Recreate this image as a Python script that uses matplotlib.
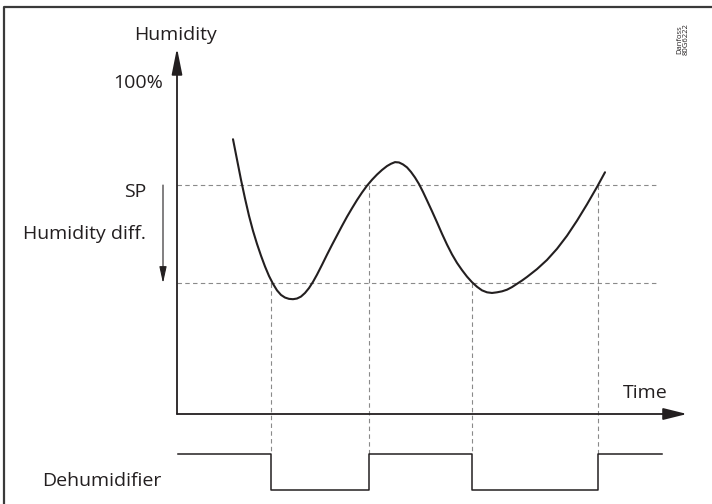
import matplotlib
matplotlib.use("Agg")
import matplotlib.pyplot as plt

# ---- data (time in arbitrary units, humidity in %) ----
curve_time = [5.6, 6.0, 6.4, 6.8, 7.2, 7.6, 8.0, 8.4, 8.8, 9.2, 9.6, 10.0, 10.4,
              10.8, 11.2, 11.6, 12.0, 12.4, 12.8, 13.2, 13.6, 14.0, 14.5, 15.0,
              15.5, 16.0, 16.5, 17.0, 17.5, 18.0, 18.5, 19.0, 19.5, 20.0, 20.5,
              21.0, 21.4, 21.8, 22.2, 22.6, 23.0, 23.4, 23.8, 24.2, 24.6, 25.0,
              25.5, 26.0, 26.5, 27.0, 27.5, 28.0, 28.5, 29.0, 29.5, 30.0, 30.5,
              31.0, 31.5, 32.0, 32.5, 33.0, 33.5, 34.0, 34.5, 35.0, 36.0, 37.0,
              38.0, 39.0, 40.0, 41.0, 42.0, 42.8]
curve_humidity = [84.0, 77.8, 71.6, 65.9, 60.6, 56.0, 52.0, 48.4, 45.1, 42.2, 39.8,
                  37.8, 36.4, 35.6, 35.2, 35.1, 35.3, 35.9, 37.0, 38.5, 40.4, 42.6,
                  45.6, 48.7, 51.7, 54.6, 57.5, 60.3, 62.9, 65.4, 67.7, 69.8, 71.6,
                  73.2, 74.6, 75.8, 76.5, 77.0, 76.9, 76.3, 75.4, 74.0, 72.3, 70.3,
                  67.9, 65.3, 62.0, 58.6, 55.1, 51.8, 48.8, 46.2, 44.0, 42.0, 40.3,
                  38.9, 37.8, 37.2, 37.0, 37.2, 37.5, 38.0, 38.8, 39.8, 40.8, 41.9,
                  44.3, 47.1, 50.5, 54.5, 59.1, 64.1, 69.4, 73.9]
setpoint = 70
humidity_diff = 30
switch_times = [9.4, 19.2, 29.5, 42.1]
switch_levels = [setpoint - humidity_diff, setpoint, setpoint - humidity_diff, setpoint]
dehum_times = [0.1, 9.4, 19.2, 29.5, 42.1, 48.5]
dehum_state = [1, 0, 1, 0, 1, 1]

label_y = "Humidity"
label_x = "Time"
label_100 = "100%"
label_sp = "SP"
label_diff = "Humidity diff."
label_dehum = "Dehumidifier"
code_text = "Danfoss\n80G6222"

# ---- layout ----
W, H, DPI = 712, 504, 100
PX_T = 10.0       # px per time unit
PX_H = 3.271      # px per % humidity
X0, Y0 = 177, 414 # origin in pixels

ink = "#231f20"
grey = "#8a8a8a"
fam = ["Open Sans", "DejaVu Sans"]
fs = 14

fig = plt.figure(figsize=(W / DPI, H / DPI), dpi=DPI)
ax = fig.add_axes([0, 0, 1, 1])
ax.set_xlim(-X0 / PX_T, (W - X0) / PX_T)
ax.set_ylim((Y0 - H) / PX_H, Y0 / PX_H)
ax.axis("off")

# frame
ax.plot([0.006, 0.006, 1.0], [0.0, 0.986, 0.986], transform=ax.transAxes,
        color="#3a3a3a", lw=1.6, clip_on=False, solid_capstyle="butt")

# dashed reference lines
x_end = 47.9
for lvl in (setpoint, setpoint - humidity_diff):
    ax.plot([0, x_end], [lvl, lvl], color=grey, lw=0.8, ls=(0, (4, 3)))
hi_level, lo_level = -12.2, -23.2
for t, lv in zip(switch_times, switch_levels):
    ax.plot([t, t], [lv, hi_level], color=grey, lw=0.8, ls=(0, (4, 3)))

# axes arrows
y_tip = (Y0 - 48) / PX_H
x_tip = (687 - X0) / PX_T
ax.annotate("", xy=(0, y_tip), xytext=(0, 0),
            arrowprops=dict(arrowstyle="-|>,head_length=1.6,head_width=0.32",
                            color=ink, lw=1.3, shrinkA=0, shrinkB=0,
                            mutation_scale=10))
ax.annotate("", xy=(x_tip, 0), xytext=(0, 0),
            arrowprops=dict(arrowstyle="-|>,head_length=1.45,head_width=0.36",
                            color=ink, lw=1.3, shrinkA=0, shrinkB=0,
                            mutation_scale=10))
# humidity diff arrow
ax.annotate("", xy=(-1.4, setpoint - humidity_diff), xytext=(-1.4, setpoint),
            arrowprops=dict(arrowstyle="-|>,head_length=1.0,head_width=0.22",
                            color=ink, lw=0.8, shrinkA=0, shrinkB=0,
                            mutation_scale=10))

# humidity curve
ax.plot(curve_time, curve_humidity, color=ink, lw=1.5, solid_joinstyle="round",
        solid_capstyle="round")

# dehumidifier state
levels = [hi_level if s else lo_level for s in dehum_state]
ax.step(dehum_times, levels, where="post", color=ink, lw=1.1)

# texts
ax.text(-0.15, 115.9, label_y, ha="center", va="center", fontsize=fs, family=fam, color=ink)
ax.text(-1.4, 101.2, label_100, ha="right", va="center", fontsize=fs, family=fam, color=ink)
ax.text(-3.1, 67.9, label_sp, ha="right", va="center", fontsize=fs, family=fam, color=ink)
ax.text(-3.1, 55.0, label_diff, ha="right", va="center", fontsize=fs, family=fam, color=ink)
ax.text(49.1, 6.4, label_x, ha="right", va="center", fontsize=fs, family=fam, color=ink)
ax.text(-13.5, -20.5, label_dehum, ha="left", va="center", fontsize=fs, family=fam, color=ink)
ax.text(50.6, 114.5, code_text, ha="center", va="center", rotation=90,
        fontsize=5.5, family=fam, color=ink, linespacing=1.0)

fig.savefig("out.png", dpi=DPI)
